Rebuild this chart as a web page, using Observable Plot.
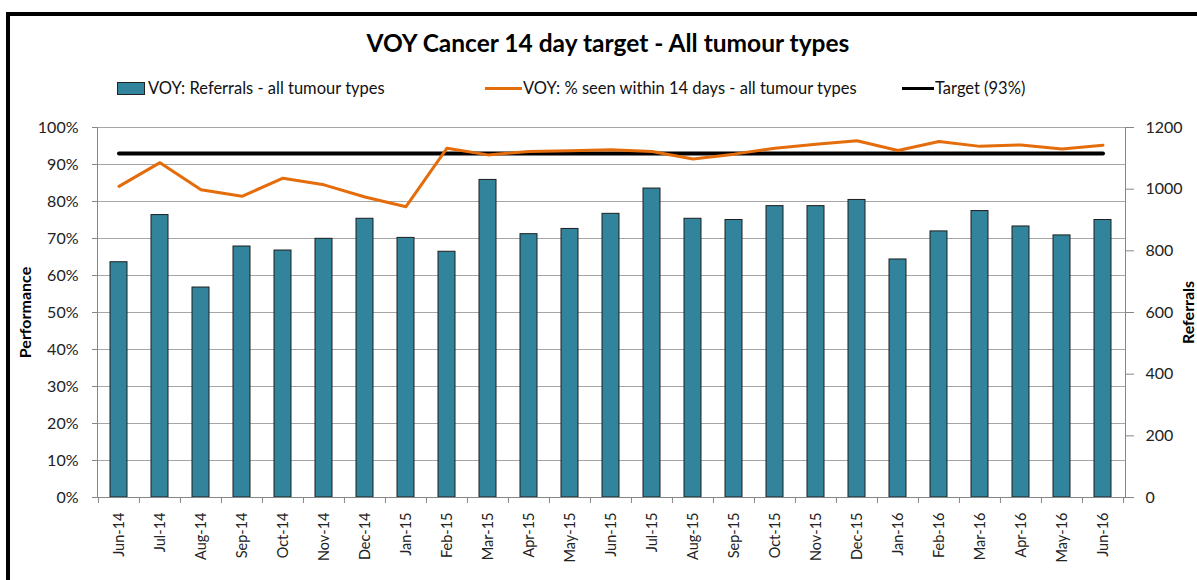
<!DOCTYPE html>
<html><head><meta charset="utf-8">
<script src="https://cdn.jsdelivr.net/npm/d3@7"></script>
<script src="https://cdn.jsdelivr.net/npm/@observablehq/plot@0.6"></script>
<style>
body{margin:0;background:#fff;font-family:Lato,"Open Sans",sans-serif;}
#frame{position:relative;width:1197px;height:580px;overflow:hidden;background:#fff}
#border{position:absolute;left:6px;top:12px;width:1300px;height:700px;border-left:4px solid #000;border-top:4px solid #000}
#title{position:absolute;left:0;width:1216px;top:28px;text-align:center;font-weight:bold;font-size:24.5px;color:#000}
.leg{position:absolute;top:78px;font-size:16.5px;color:#111;white-space:nowrap;line-height:20px}
.sw{position:absolute}
#chart{position:absolute;left:0;top:110px}
.ylab{position:absolute;font-weight:bold;font-size:16px;color:#000;white-space:nowrap;transform-origin:center center}
</style></head>
<body>
<div id="frame">
  <div id="border"></div>
  <div id="title"></div>
  <div id="legend"></div>
  <div id="chart"></div>
  <div class="ylab" id="ylabL"></div>
  <div class="ylab" id="ylabR"></div>
</div>
<script>
const titleText = "VOY Cancer 14 day target - All tumour types";
const seriesNames = ["VOY: Referrals - all tumour types", "VOY: % seen within 14 days - all tumour types", "Target (93%)"];
const months = ["Jun-14","Jul-14","Aug-14","Sep-14","Oct-14","Nov-14","Dec-14","Jan-15","Feb-15","Mar-15","Apr-15","May-15","Jun-15","Jul-15","Aug-15","Sep-15","Oct-15","Nov-15","Dec-15","Jan-16","Feb-16","Mar-16","Apr-16","May-16","Jun-16"];
const referrals = [763,916,681,814,801,839,904,842,797,1030,854,871,920,1002,904,900,945,945,965,772,863,929,879,850,900];
const pctSeen = [84.1,90.5,83.2,81.4,86.3,84.5,81.2,78.6,94.4,92.6,93.5,93.7,94.0,93.5,91.5,92.8,94.4,95.5,96.4,93.8,96.2,94.9,95.3,94.2,95.2];
const targetPct = 93;
const leftTicks = [0,10,20,30,40,50,60,70,80,90,100];
const rightTicks = [0,200,400,600,800,1000,1200];
const refMax = 1200;
const leftTitle = "Performance";
const rightTitle = "Referrals";

const colBar = "#31849B", colLine = "#E46C0A", colTarget = "#000000";

document.getElementById("title").textContent = titleText;
document.getElementById("ylabL").textContent = leftTitle;
document.getElementById("ylabR").textContent = rightTitle;

// legend
const legend = document.getElementById("legend");
const legItems = [
  {swLeft:117, swW:26, txtLeft:148, type:"rect", color:colBar},
  {swLeft:485, swW:37, txtLeft:523, type:"line", color:colLine},
  {swLeft:902, swW:32, txtLeft:935, type:"line", color:colTarget}
];
legItems.forEach((it,i)=>{
  const sw = document.createElement("div");
  sw.className = "sw";
  if (it.type==="rect") {
    Object.assign(sw.style,{left:it.swLeft+"px",top:"82px",width:it.swW+"px",height:"11px",background:it.color,border:"1px solid #222"});
  } else {
    Object.assign(sw.style,{left:it.swLeft+"px",top:"87px",width:it.swW+"px",height:"3px",background:it.color});
  }
  legend.appendChild(sw);
  const t = document.createElement("div");
  t.className = "leg";
  t.style.left = it.txtLeft+"px";
  t.textContent = seriesNames[i];
  legend.appendChild(t);
});

const data = months.map((m,i)=>({month:m, ref:referrals[i], refPct:referrals[i]/refMax*100, pct:pctSeen[i], target:targetPct}));

const W = 1197, H = 470, mL = 97, mR = 72, mT = 17, mB = 83;
const step = (W - mL - mR) / months.length;

const chart = Plot.plot({
  width: W, height: H,
  marginLeft: mL, marginRight: mR, marginTop: mT, marginBottom: mB,
  style: {fontFamily: "Lato, 'Open Sans', sans-serif", fontSize: "16px", color: "#222", background: "transparent", overflow: "visible"},
  x: {domain: months, paddingInner: 0.58, paddingOuter: 0.29, label: null},
  y: {domain: [0, 100], label: null},
  marks: [
    Plot.gridY(leftTicks, {stroke: "#a6a6a6", strokeOpacity: 1, strokeWidth: 1}),
    Plot.barY(data, {x: "month", y: "refPct", fill: colBar, stroke: "#1e1e1e", strokeWidth: 1}),
    Plot.lineY(data, {x: "month", y: "target", stroke: colTarget, strokeWidth: 4}),
    Plot.lineY(data, {x: "month", y: "pct", stroke: colLine, strokeWidth: 3}),
    Plot.ruleY([0], {stroke: "#868686", strokeWidth: 1}),
    Plot.frame({anchor: "left", stroke: "#868686"}),
    Plot.frame({anchor: "right", stroke: "#868686"}),
    Plot.axisY(leftTicks, {anchor: "left", tickSize: 5, tickPadding: 14, tickFormat: d => d + "%", stroke: "#868686", fill: "#222", fontSize: 16, label: null}),
    Plot.axisY(rightTicks.map(v => v / refMax * 100), {anchor: "right", tickSize: 8, tickPadding: 12, tickFormat: d => String(Math.round(d * refMax / 100)), stroke: "#868686", fill: "#222", fontSize: 16, label: null}),
    Plot.axisX({anchor: "bottom", tickSize: 0, tickPadding: 15, tickRotate: -90, fontSize: 14.5, fill: "#222", label: null}),
    Plot.axisX(months, {anchor: "bottom", tickSize: 6, tickFormat: () => "", dx: -step / 2, stroke: "#868686", label: null}),
    Plot.axisX([months[months.length - 1]], {anchor: "bottom", tickSize: 6, tickFormat: () => "", dx: step / 2, stroke: "#868686", label: null})
  ]
});
document.getElementById("chart").appendChild(chart);

// y-axis titles
const yl = document.getElementById("ylabL");
yl.style.left = (24 - yl.offsetWidth/2) + "px";
yl.style.top = (312 - yl.offsetHeight/2) + "px";
yl.style.transform = "rotate(-90deg)";
const yr = document.getElementById("ylabR");
yr.style.left = (1187 - yr.offsetWidth/2) + "px";
yr.style.top = (312 - yr.offsetHeight/2) + "px";
yr.style.transform = "rotate(-90deg)";
</script>
</body></html>
